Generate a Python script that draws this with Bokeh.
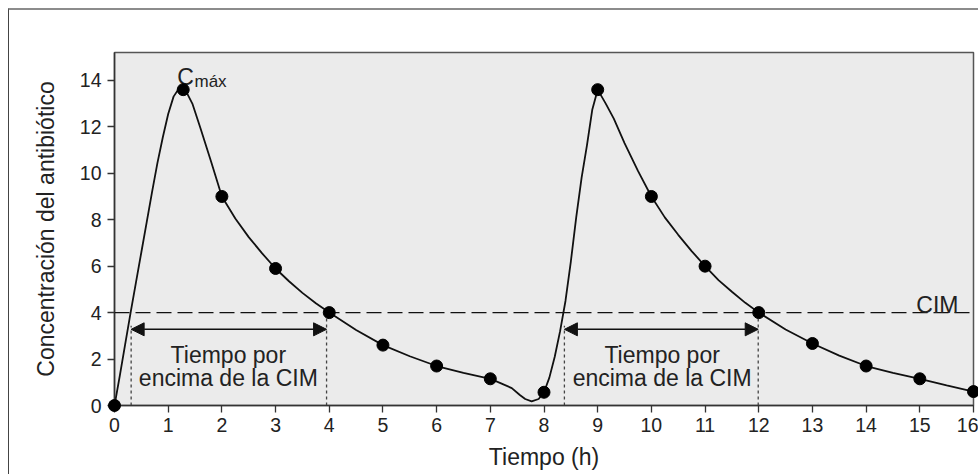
from bokeh.plotting import figure
from bokeh.models import Range1d, FixedTicker, Span, Arrow, NormalHead, Label
from bokeh.embed import file_html
from bokeh.resources import INLINE

# ---- data ----
sample_hours = [0, 1.28, 2, 3, 4, 5, 6, 7, 8, 9, 10, 11, 12, 13, 14, 15, 16]
sample_conc = [0, 13.6, 9.0, 5.9, 4.0, 2.6, 1.7, 1.15, 0.57, 13.6, 9.0, 6.0, 4.0, 2.67, 1.7, 1.15, 0.6]

curve_hours = [0, 0.1, 0.2, 0.3, 0.4, 0.5, 0.6, 0.7, 0.8, 0.9, 1.0, 1.1, 1.2, 1.28, 1.35, 1.45,
               1.6, 1.8, 2.0, 2.25, 2.5, 2.75, 3.0, 3.25, 3.5, 3.75, 4.0, 4.5, 5.0, 5.5, 6.0,
               6.5, 7.0, 7.2, 7.4, 7.55, 7.65, 7.77, 7.9, 8.0, 8.1, 8.2, 8.3, 8.4, 8.5, 8.6,
               8.7, 8.8, 8.9, 9.0, 9.15, 9.3, 9.5, 9.75, 10.0, 10.25, 10.5, 10.75, 11.0,
               11.25, 11.5, 11.75, 12.0, 12.5, 13.0, 13.5, 14.0, 14.5, 15.0, 15.5, 16.0]
curve_conc = [0, 1.3, 2.65, 4.0, 5.3, 6.6, 7.9, 9.2, 10.45, 11.55, 12.55, 13.3, 13.65, 13.62,
              13.45, 13.0, 11.95, 10.5, 9.0, 8.05, 7.25, 6.55, 5.9, 5.35, 4.85, 4.4, 4.0, 3.25,
              2.6, 2.12, 1.7, 1.4, 1.15, 0.95, 0.75, 0.45, 0.28, 0.18, 0.28, 0.57, 1.2, 2.1,
              3.2, 4.5, 6.2, 8.1, 9.8, 11.2, 12.75, 13.6, 13.0, 12.35, 11.3, 10.1, 9.0, 8.1,
              7.35, 6.65, 6.0, 5.4, 4.9, 4.42, 4.0, 3.27, 2.67, 2.15, 1.7, 1.4, 1.15, 0.87, 0.6]

cim_level = 4
x_ticks = list(range(0, 17))
y_ticks = [0, 2, 4, 6, 8, 10, 12, 14]

# time-above-MIC intervals (start, end)
above_start = [0.31, 8.38]
above_end = [3.95, 11.99]
arrow_level = 3.28

FONT = "Liberation Sans"

p = figure(width=970, height=466, output_backend="svg", toolbar_location=None,
           x_range=Range1d(0, 16), y_range=Range1d(0, 15.2),
           min_border_left=105, min_border_right=6, min_border_top=42, min_border_bottom=71)

p.background_fill_color = "#ebebeb"
p.border_fill_color = "white"
p.outline_line_color = "#555555"
p.outline_line_width = 1.5
p.grid.visible = False
p.styles = {"margin-top": "8px", "margin-left": "8px",
            "border-top": "2px solid #8c8c8c", "border-left": "1px solid #444444"}

for ax in (p.xaxis[0], p.yaxis[0]):
    ax.axis_line_color = "#333333"
    ax.axis_line_width = 1.5
    ax.major_tick_line_color = "#333333"
    ax.major_tick_line_width = 1.3
    ax.major_tick_out = 7
    ax.major_tick_in = 0
    ax.minor_tick_line_color = None
    ax.major_label_text_font = FONT
    ax.major_label_text_font_size = "19.5px"
    ax.major_label_text_color = "#222222"
    ax.axis_label_text_font = FONT
    ax.axis_label_text_font_size = "23px"
    ax.axis_label_text_font_style = "normal"
    ax.axis_label_text_color = "#222222"

p.xaxis.ticker = FixedTicker(ticks=x_ticks)
p.yaxis.ticker = FixedTicker(ticks=y_ticks)
p.xaxis.axis_label = "Tiempo (h)"
p.yaxis.axis_label = "Concentración del antibiótico"
p.xaxis.major_label_standoff = 5
p.yaxis.major_label_standoff = 6
p.xaxis.axis_label_standoff = 9
p.yaxis.axis_label_standoff = 18

# MIC dashed line
p.add_layout(Span(location=cim_level, dimension="width", line_color="#111111",
                  line_width=1.3, line_dash="15 6"))

# dotted guides
guide_x0 = above_start + above_end
guide_top = [arrow_level + 0.15, arrow_level + 0.15, cim_level, cim_level]
p.segment(x0=guide_x0, y0=[0] * 4, x1=guide_x0, y1=guide_top,
          line_color="#444444", line_width=1.3, line_dash="3 3")

# curve and samples
p.line(curve_hours, curve_conc, line_color="#111111", line_width=1.8)
p.scatter(sample_hours, sample_conc, size=12, fill_color="black", line_color="black",
          level="overlay")

# double arrows
for s, e in zip(above_start, above_end):
    p.add_layout(Arrow(x_start=s, y_start=arrow_level, x_end=e, y_end=arrow_level,
                       line_color="#111111", line_width=1.5,
                       start=NormalHead(size=13, fill_color="#111111", line_color="#111111"),
                       end=NormalHead(size=13, fill_color="#111111", line_color="#111111")))

# annotation texts
for cx in [2.12, 10.2]:
    p.add_layout(Label(x=cx, y=2.16, text="Tiempo por", text_align="center",
                       text_baseline="alphabetic", text_font=FONT,
                       text_font_size="23px", text_color="#222222"))
    p.add_layout(Label(x=cx, y=1.19, text="encima de la CIM", text_align="center",
                       text_baseline="alphabetic", text_font=FONT,
                       text_font_size="23px", text_color="#222222"))

p.add_layout(Label(x=15.72, y=4.31, text="CIM", text_align="right",
                   text_baseline="alphabetic", text_font=FONT,
                   text_font_size="23px", text_color="#222222"))

p.add_layout(Label(x=1.17, y=14.15, text="C", text_align="left",
                   text_baseline="alphabetic", text_font=FONT,
                   text_font_size="23px", text_color="#222222"))
p.add_layout(Label(x=1.49, y=13.97, text="máx", text_align="left",
                   text_baseline="alphabetic", text_font=FONT,
                   text_font_size="17px", text_color="#222222"))

open("out.html", "w").write(file_html(p, INLINE))
